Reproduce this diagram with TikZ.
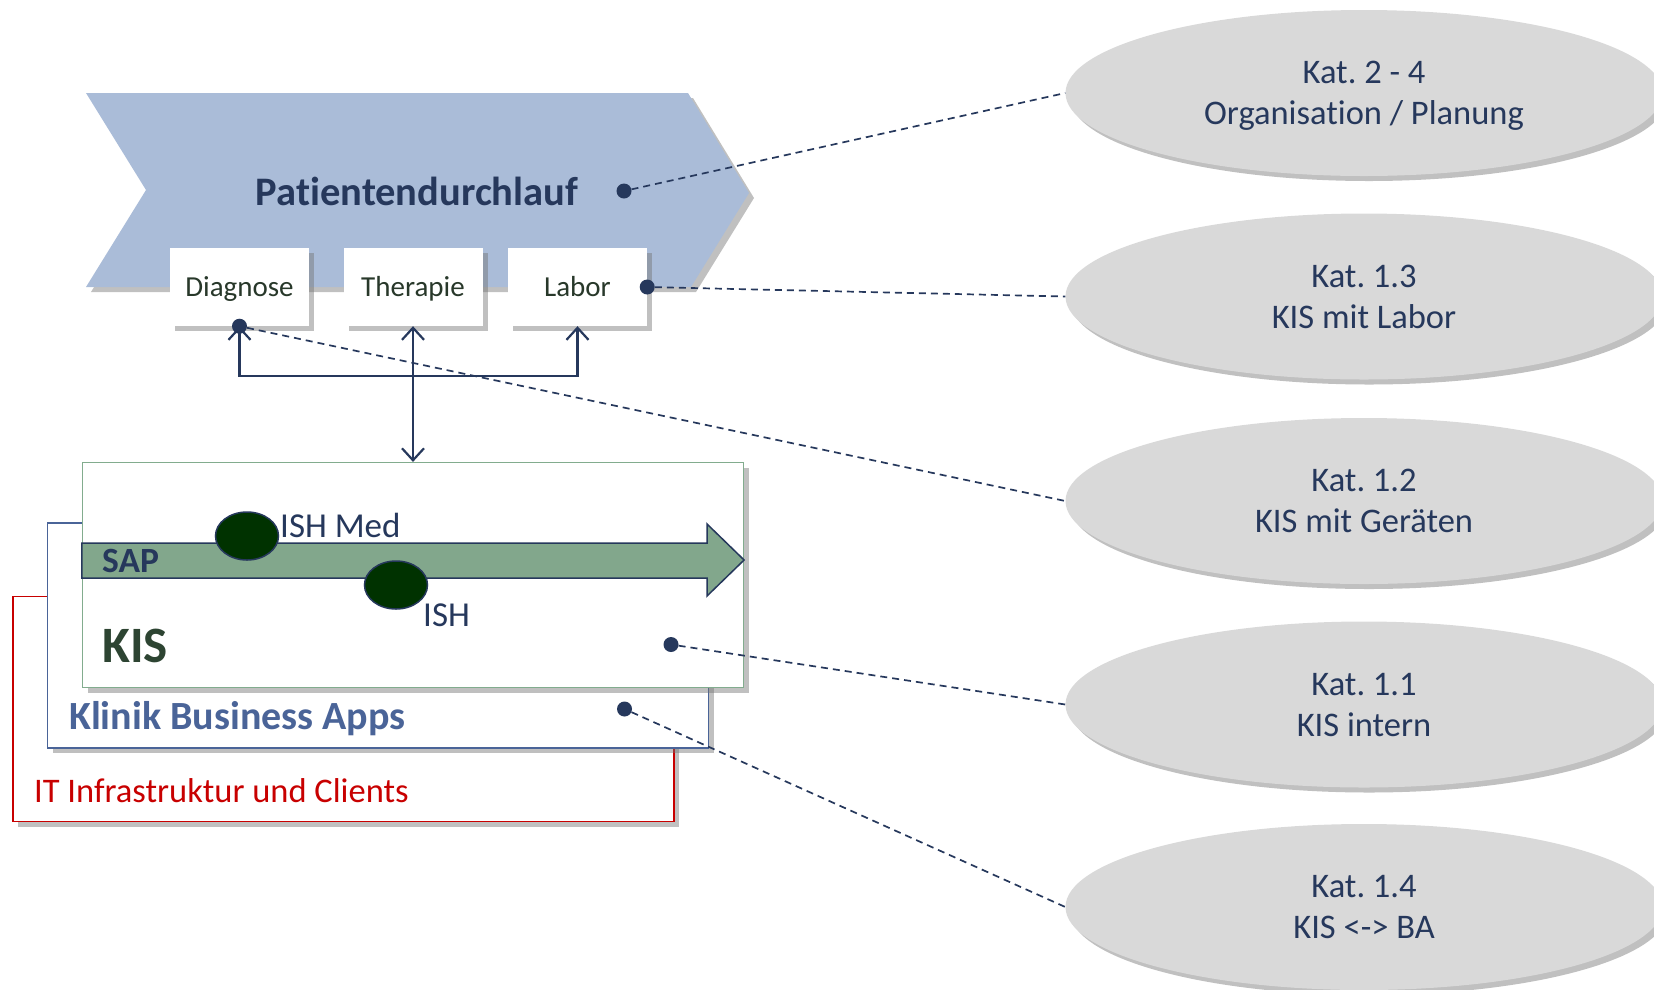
\documentclass[tikz,border=0pt]{standalone}
\usepackage{fontspec}
\setmainfont{Carlito}[Ligatures=NoCommon]
\usetikzlibrary{arrows.meta,positioning,calc,shapes.geometric,shadows}

\definecolor{flowblue}{RGB}{170,188,216}
\definecolor{navy}{RGB}{38,56,92}
\definecolor{boxtext}{RGB}{40,56,42}
\definecolor{sapgreen}{RGB}{130,167,140}
\definecolor{ishgreen}{RGB}{0,50,0}
\definecolor{kisgreen}{RGB}{130,172,142}
\definecolor{kistext}{RGB}{45,68,50}
\definecolor{bablue}{RGB}{74,100,152}
\definecolor{itred}{RGB}{200,0,0}
\definecolor{katgray}{RGB}{217,217,217}
\frenchspacing

\begin{document}
\begin{tikzpicture}[x=1pt, y=-1pt,
    shade/.style={drop shadow={shadow xshift=5pt, shadow yshift=-5pt, opacity=0.45, fill=black!55}},
    stepbox/.style={fill=white, shade, minimum width=139pt, minimum height=78pt, inner sep=0pt,
        text height=18pt, text depth=0pt, text=boxtext, font=\fontsize{29}{34}\selectfont},
    layer/.style={draw, line width=1.2pt, fill=white, shade, minimum width=661pt, minimum height=225pt, inner sep=0pt},
    kat/.style={ellipse, fill=katgray, shade, minimum width=597pt, minimum height=166pt, align=center,
        text depth=0pt, text=navy, font=\fontsize{34.5}{41}\selectfont},
    ish/.style={ellipse, draw=navy, line width=1.5pt, fill=ishgreen, minimum width=63pt, minimum height=48pt, inner sep=0pt},
    dot/.style={circle, fill=navy, inner sep=0pt, minimum size=15pt},
    link/.style={navy, line width=1.7pt, dash pattern=on 7pt off 5pt},
    conn/.style={{Straight Barb[length=12pt,width=22pt]}-{Straight Barb[length=12pt,width=22pt]}, navy, line width=2.2pt}
]
\useasboundingbox (0,0) rectangle (1654,989);
\clip (0,0) rectangle (1654,989);

% process chevron
\fill[flowblue, shade] (86,93) -- (688,93) -- (749,193) -- (691,287) -- (86,287) -- (146,190) -- cycle;
\node[text=navy, font=\bfseries\fontsize{40.5}{44}\selectfont] (pd) at (417,191) {Patientendurchlauf};
\node[dot] (pddot) at (624,191) {};

\node[stepbox] (diag) at (239.5,287) {Diagnose};
\node[stepbox] (ther) at (413,287) {Therapie};
\node[stepbox] (labor) at (577.5,287) {Labor};

% layers
\node[layer, draw=itred] (it) at (343.5,709) {};
\node[layer, draw=bablue] (ba) at (378,635.5) {};
\node[layer, draw=kisgreen] (kis) at (413,575) {};

\node[anchor=west, inner sep=0pt, text=itred, font=\fontsize{34.5}{40}\selectfont] (itlabel) at (34,791) {IT Infrastruktur und Clients};
\node[anchor=west, inner sep=0pt, text=bablue, font=\bfseries\fontsize{40}{46}\selectfont] (balabel) at (69,719) {Klinik Business Apps};
\node[anchor=west, inner sep=0pt, text=kistext, font=\bfseries\fontsize{51}{56}\selectfont] (kislabel) at (102,646) {KIS};

% SAP arrow
\filldraw[fill=sapgreen, draw=navy, line width=1.5pt]
    (kis.west |- 0,543) -- (707,543) -- (707,524) -- (kis.east |- 0,560) -- (707,596) -- (707,578) -- (kis.west |- 0,578) -- cycle;
\node[anchor=west, inner sep=0pt, text=navy, font=\bfseries\fontsize{35.5}{40}\selectfont] (sap) at (102,561) {SAP};

\node[ish] (ishmed) at (247,536) {};
\node[ish] (ishc) at (396,585) {};
\node[anchor=west, inner sep=0pt, text=navy, font=\fontsize{35}{40}\selectfont] (ishmedlabel) at (280,525) {ISH Med};
\node[anchor=west, inner sep=0pt, text=navy, font=\fontsize{35}{40}\selectfont] (ishlabel) at (423,615) {ISH};

\node[dot] (kisdot) at (671,644.5) {};
\node[dot] (badot) at (624.5,709) {};

% connectors
\draw[conn] (ther.south) -- (kis.north);
\draw[conn] (diag.south) -- ++(0,50) -| (labor.south);
\node[dot] (diagdot) at (diag.south) {};
\node[dot] (labordot) at (labor.east) {};

% categories
\node[kat] (kat24) at (1364,93) {Kat. 2 - 4\\Organisation / Planung};
\node[kat] (kat13) at (1364,296.5) {Kat. 1.3\\KIS mit Labor};
\node[kat] (kat12) at (1364,501) {Kat. 1.2\\KIS mit Geräten};
\node[kat] (kat11) at (1364,704.5) {Kat. 1.1\\KIS intern};
\node[kat] (kat14) at (1364,907) {Kat. 1.4\\KIS <-> BA};

\draw[link] (pddot) -- (kat24.west);
\draw[link] (labordot) -- (kat13.west);
\draw[link] (diagdot) -- (kat12.west);
\draw[link] (kisdot) -- (kat11.west);
\draw[link] (badot) -- (kat14.west);
\end{tikzpicture}
\end{document}
